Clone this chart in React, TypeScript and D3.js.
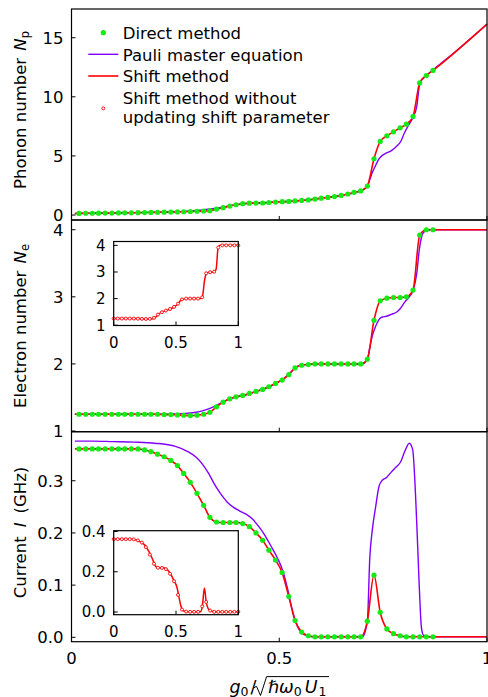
import * as d3 from 'd3';
import React from 'react';

const width = 488;
const height = 697;

// direct method: g0 grid and the three observables
const directX = [
  0.018, 0.034, 0.05, 0.065, 0.081, 0.097, 0.113, 0.128, 0.144, 0.16, 0.176, 0.191, 0.207, 0.223,
  0.239, 0.255, 0.27, 0.286, 0.302, 0.318, 0.333, 0.349, 0.365, 0.381, 0.396, 0.412, 0.428, 0.444,
  0.46, 0.475, 0.491, 0.507, 0.523, 0.538, 0.554, 0.57, 0.586, 0.601, 0.617, 0.633, 0.649, 0.665,
  0.68, 0.696, 0.712, 0.728, 0.743, 0.759, 0.775, 0.791, 0.806, 0.822, 0.838, 0.854, 0.87,
];
const directNp = [
  0.14, 0.15, 0.15, 0.16, 0.17, 0.17, 0.18, 0.19, 0.19, 0.2, 0.21, 0.22, 0.23, 0.24, 0.25, 0.26,
  0.28, 0.3, 0.32, 0.34, 0.37, 0.5, 0.62, 0.76, 0.87, 0.96, 1.0, 1.01, 1.02, 1.06, 1.1, 1.13, 1.15,
  1.19, 1.24, 1.28, 1.35, 1.43, 1.49, 1.56, 1.66, 1.78, 1.92, 2.04, 2.45, 4.76, 6.23, 6.7, 7.04,
  7.38, 7.69, 8.34, 11.18, 11.8, 12.23,
];
const directNe = [
  1.25, 1.25, 1.25, 1.25, 1.25, 1.25, 1.25, 1.25, 1.25, 1.25, 1.25, 1.25, 1.25, 1.245, 1.245, 1.24,
  1.235, 1.23, 1.235, 1.25, 1.28, 1.36, 1.43, 1.48, 1.51, 1.53, 1.56, 1.59, 1.62, 1.66, 1.71, 1.76,
  1.84, 1.94, 1.98, 1.99, 2.0, 2.0, 2.0, 2.0, 2.0, 2.0, 2.0, 2.0, 2.07, 2.65, 2.94, 2.98, 2.99,
  2.99, 3.0, 3.1, 3.92, 4.0, 4.0,
];
const directI = [
  0.361, 0.361, 0.361, 0.361, 0.361, 0.361, 0.361, 0.361, 0.361, 0.361, 0.359, 0.356, 0.351, 0.346,
  0.339, 0.329, 0.314, 0.297, 0.276, 0.253, 0.23, 0.221, 0.22, 0.22, 0.22, 0.218, 0.212, 0.2, 0.186,
  0.167, 0.148, 0.124, 0.078, 0.032, 0.01, 0.003, 0.001, 0.001, 0.001, 0.001, 0.001, 0.001, 0.001,
  0.001, 0.031, 0.119, 0.048, 0.016, 0.007, 0.003, 0.001, 0.001, 0.001, 0.001, 0.001,
];

// shift method continues past the direct points
const shiftHeadX = [0.008];
const shiftTailX = [1.0];
const shiftHeadNp = [0.13];
const shiftTailNp = [16.15];
const shiftHeadNe = [1.25];
const shiftTailNe = [4.0];
const shiftHeadI = [0.361];
const shiftTailI = [0.001];

// Pauli master equation
const pauliX = [
  0.008, 0.05, 0.1, 0.15, 0.2, 0.25, 0.28, 0.3, 0.315, 0.33, 0.345, 0.36, 0.375, 0.39, 0.405, 0.42,
  0.435, 0.45, 0.465, 0.48, 0.495, 0.51, 0.52, 0.53, 0.54, 0.55, 0.56, 0.58, 0.6, 0.65, 0.7, 0.712,
  0.718, 0.724, 0.732, 0.74, 0.748, 0.758, 0.77, 0.782, 0.792, 0.802, 0.813, 0.821, 0.831, 0.837,
  0.842, 0.847, 0.86, 0.9, 1.0,
];
const pauliNp = [
  0.13, 0.15, 0.17, 0.2, 0.24, 0.28, 0.32, 0.38, 0.43, 0.49, 0.56, 0.64, 0.74, 0.84, 0.92, 0.97,
  1.0, 1.03, 1.06, 1.08, 1.11, 1.13, 1.15, 1.17, 1.2, 1.23, 1.26, 1.32, 1.42, 1.67, 2.1, 2.45, 3.0,
  3.6, 4.2, 4.75, 5.05, 5.25, 5.45, 5.8, 6.2, 7.0, 7.7, 8.2, 9.2, 10.9, 11.4, 11.6, 12.0, 13.13,
  16.15,
];
const pauliNe = [
  1.25, 1.25, 1.25, 1.25, 1.25, 1.255, 1.265, 1.28, 1.3, 1.33, 1.37, 1.42, 1.46, 1.5, 1.52, 1.54,
  1.57, 1.6, 1.63, 1.67, 1.72, 1.78, 1.83, 1.89, 1.95, 1.98, 1.99, 2.0, 2.0, 2.0, 2.0, 2.07, 2.25,
  2.42, 2.56, 2.66, 2.7, 2.71, 2.74, 2.77, 2.83, 2.92, 3.0, 3.08, 3.35, 3.7, 3.88, 3.96, 4.0, 4.0,
  4.0,
];
const pauliI = [
  0.376, 0.376, 0.375, 0.374, 0.372, 0.366, 0.356, 0.345, 0.332, 0.314, 0.292, 0.274, 0.259, 0.249,
  0.242, 0.236, 0.227, 0.213, 0.196, 0.175, 0.153, 0.124, 0.093, 0.057, 0.029, 0.012, 0.005, 0.001,
  0.001, 0.001, 0.001, 0.03, 0.154, 0.206, 0.25, 0.289, 0.301, 0.306, 0.317, 0.327, 0.336, 0.356,
  0.372, 0.36, 0.218, 0.097, 0.02, 0.004, 0.001, 0.001, 0.001,
];

// shift method without updating shift parameter (insets)
const insetX = [
  0, 0.032, 0.065, 0.097, 0.129, 0.161, 0.194, 0.226, 0.258, 0.29, 0.323, 0.355, 0.387, 0.419,
  0.452, 0.484, 0.516, 0.548, 0.581, 0.613, 0.645, 0.677, 0.71, 0.742, 0.774, 0.806, 0.839, 0.871,
  0.903, 0.935, 0.968, 1.0,
];
const insetNe = [
  1.25, 1.25, 1.25, 1.25, 1.25, 1.25, 1.245, 1.24, 1.235, 1.24, 1.28, 1.4, 1.49, 1.55, 1.61, 1.69,
  1.81, 1.97, 2.0, 2.0, 2.0, 2.0, 2.05, 2.95, 2.99, 3.01, 3.92, 4.0, 4.0, 4.0, 4.0, 4.0,
];
const insetI = [
  0.362, 0.362, 0.362, 0.362, 0.362, 0.361, 0.356, 0.345, 0.322, 0.285, 0.24, 0.22, 0.219, 0.213,
  0.19, 0.153, 0.085, 0.012, 0.002, 0.001, 0.001, 0.001, 0.028, 0.05, 0.007, 0.001, 0.001, 0.001,
  0.001, 0.001, 0.001, 0.001,
];

const npTicks = [0, 5, 10, 15];
const neTicks = [1, 2, 3, 4];
const iTicks = [0, 0.1, 0.2, 0.3];
const xTicks = [0, 0.5, 1];
const insetNeTicks = [1, 2, 3, 4];
const insetITicks = [0, 0.2, 0.4];

const shiftX = [...shiftHeadX, ...directX, ...shiftTailX];
const shiftNp = [...shiftHeadNp, ...directNp, ...shiftTailNp];
const shiftNe = [...shiftHeadNe, ...directNe, ...shiftTailNe];
const shiftI = [...shiftHeadI, ...directI, ...shiftTailI];

const GREEN = '#14ea14';
const PURPLE = '#8000ff';
const RED = '#ff0000';
const FONT = 'DejaVu Sans';

const x = d3.scaleLinear().domain([0, 1]).range([71.5, 487]);
const yNp = d3.scaleLinear().domain([-0.42, 17.43]).range([220, 9]);
const yNe = d3.scaleLinear().domain([0.99, 4.145]).range([431.7, 220]);
const yI = d3.scaleLinear().domain([-0.0084, 0.394]).range([641.7, 431.7]);
const xIn = d3.scaleLinear().domain([0, 1]).range([113.7, 238.3]);
const yNeIn = d3.scaleLinear().domain([0.99, 4.145]).range([325.5, 241.5]);
const yIIn = d3.scaleLinear().domain([-0.0134, 0.404]).range([614.7, 530.7]);

function linePath(xs: number[], ys: number[], sx: any, sy: any) {
  return (
    d3
      .line<number>()
      .x((_, i) => sx(xs[i]))
      .y((d) => sy(d))
      .curve(d3.curveMonotoneX)(ys) || ''
  );
}

function Frame({ sx, sy, yTicks, fmt, labelX, fontSize, xLabels, xLabelY }: any) {
  const [x0, x1] = sx.range();
  const [y0, y1] = sy.range();
  return (
    <g>
      <rect x={x0} y={y1} width={x1 - x0} height={y0 - y1} fill="none" stroke="#000" strokeWidth={1.2} />
      {yTicks.map((t: number) => (
        <g key={'y' + t}>
          <line x1={x0} x2={x0 + 4} y1={sy(t)} y2={sy(t)} stroke="#000" strokeWidth={1} />
          <text x={labelX} y={sy(t)} dy="0.36em" textAnchor="end" fontSize={fontSize}>
            {fmt(t)}
          </text>
        </g>
      ))}
      {xTicks.map((t) => (
        <g key={'x' + t}>
          <line x1={sx(t)} x2={sx(t)} y1={y0} y2={y0 - 4} stroke="#000" strokeWidth={1} />
          {xLabels && (
            <text x={sx(t)} y={xLabelY} textAnchor="middle" fontSize={fontSize}>
              {d3.format('')(t)}
            </text>
          )}
        </g>
      ))}
    </g>
  );
}

function Dots({ xs, ys, sy }: any) {
  return (
    <g>
      {ys.map((d: number, i: number) => (
        <circle key={i} cx={x(xs[i])} cy={sy(d)} r={2.6} fill={GREEN} />
      ))}
    </g>
  );
}

function Rings({ xs, ys, sx, sy }: any) {
  return (
    <g>
      {ys.map((d: number, i: number) => (
        <circle key={i} cx={sx(xs[i])} cy={sy(d)} r={1.5} fill="#fff" stroke={RED} strokeWidth={0.9} />
      ))}
    </g>
  );
}

export default function App() {
  const fmtInt = (d: number) => String(d);
  const fmt1 = d3.format('.1f');
  return (
    <svg
      width={width}
      height={height}
      style={{ position: 'absolute', left: 0, top: 0, background: '#fff' }}
      fontFamily={FONT}
    >
      {/* top panel: phonon number */}
      <path d={linePath(pauliX, pauliNp, x, yNp)} fill="none" stroke={PURPLE} strokeWidth={1.4} />
      <path d={linePath(shiftX, shiftNp, x, yNp)} fill="none" stroke={RED} strokeWidth={1.6} />
      <Dots xs={directX} ys={directNp} sy={yNp} />
      <Frame sx={x} sy={yNp} yTicks={npTicks} fmt={fmtInt} labelX={63.5} fontSize={16.5} />

      {/* middle panel: electron number */}
      <path d={linePath(pauliX, pauliNe, x, yNe)} fill="none" stroke={PURPLE} strokeWidth={1.4} />
      <path d={linePath(shiftX, shiftNe, x, yNe)} fill="none" stroke={RED} strokeWidth={1.6} />
      <Dots xs={directX} ys={directNe} sy={yNe} />
      <Frame sx={x} sy={yNe} yTicks={neTicks} fmt={fmtInt} labelX={63.5} fontSize={16.5} />

      {/* bottom panel: current */}
      <path d={linePath(pauliX, pauliI, x, yI)} fill="none" stroke={PURPLE} strokeWidth={1.4} />
      <path d={linePath(shiftX, shiftI, x, yI)} fill="none" stroke={RED} strokeWidth={1.6} />
      <Dots xs={directX} ys={directI} sy={yI} />
      <Frame
        sx={x}
        sy={yI}
        yTicks={iTicks}
        fmt={fmt1}
        labelX={63.5}
        fontSize={16.5}
        xLabels
        xLabelY={663.7}
      />

      {/* inset: electron number */}
      <rect x={113.7} y={241.5} width={124.6} height={84} fill="#fff" />
      <path d={linePath(shiftX, shiftNe, xIn, yNeIn)} fill="none" stroke={RED} strokeWidth={1.5} />
      <Rings xs={insetX} ys={insetNe} sx={xIn} sy={yNeIn} />
      <Frame
        sx={xIn}
        sy={yNeIn}
        yTicks={insetNeTicks}
        fmt={fmtInt}
        labelX={105.5}
        fontSize={15}
        xLabels
        xLabelY={348.2}
      />

      {/* inset: current */}
      <rect x={113.7} y={530.7} width={124.6} height={84} fill="#fff" />
      <path d={linePath(shiftX, shiftI, xIn, yIIn)} fill="none" stroke={RED} strokeWidth={1.5} />
      <Rings xs={insetX} ys={insetI} sx={xIn} sy={yIIn} />
      <Frame
        sx={xIn}
        sy={yIIn}
        yTicks={insetITicks}
        fmt={fmt1}
        labelX={105.5}
        fontSize={15}
        xLabels
        xLabelY={637.2}
      />

      {/* legend */}
      <g fontSize={16.5}>
        <circle cx={103.3} cy={32.7} r={2.6} fill={GREEN} />
        <text x={122.7} y={39.3}>Direct method</text>
        <line x1={88.3} x2={118.3} y1={54.3} y2={54.3} stroke={PURPLE} strokeWidth={1.4} />
        <text x={122.7} y={61}>Pauli master equation</text>
        <line x1={88.3} x2={118.3} y1={76} y2={76} stroke={RED} strokeWidth={1.6} />
        <text x={122.7} y={82.3}>Shift method</text>
        <circle cx={103.3} cy={108.3} r={1.5} fill="#fff" stroke={RED} strokeWidth={0.9} />
        <text x={122.7} y={104.3}>Shift method without</text>
        <text x={122.7} y={122.7}>updating shift parameter</text>
      </g>

      {/* y axis titles */}
      <text transform="translate(26,110) rotate(-90)" textAnchor="middle" fontSize={16.5}>
        Phonon number{' '}
        <tspan fontStyle="italic" dx={2}>N</tspan>
        <tspan fontSize={11.5} dy={3}>p</tspan>
      </text>
      <text transform="translate(26,326) rotate(-90)" textAnchor="middle" fontSize={16.5}>
        Electron number{' '}
        <tspan fontStyle="italic" dx={2}>N</tspan>
        <tspan fontSize={11.5} dy={3}>e</tspan>
      </text>
      <text transform="translate(26,532.5) rotate(-90)" textAnchor="middle" fontSize={16.5}>
        Current
        <tspan fontStyle="italic" dx={9}>I</tspan>
        <tspan dx={9}>(GHz)</tspan>
      </text>

      {/* x axis title */}
      <text x={229.5} y={693} fontSize={17.5}>
        <tspan fontStyle="italic">g</tspan>
        <tspan fontSize={12.5} dy={3}>0</tspan>
        <tspan dy={-3} dx={2}>/</tspan>
      </text>
      <path
        d="M253.5,688 L256.5,686.3 L260.5,695.5 L266.6,676.6 L329,676.6"
        fill="none"
        stroke="#000"
        strokeWidth={1}
      />
      <text x={268} y={693} fontSize={17.5}>
        <tspan fontStyle="italic">ℏω</tspan>
        <tspan fontSize={12.5} dy={3}>0</tspan>
        <tspan fontStyle="italic" dy={-3} dx={3}>U</tspan>
        <tspan fontSize={12.5} dy={3} dx={1}>1</tspan>
      </text>
    </svg>
  );
}
